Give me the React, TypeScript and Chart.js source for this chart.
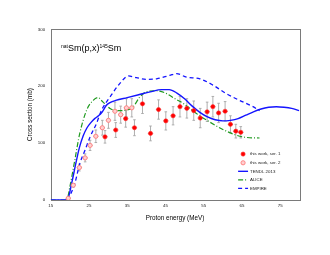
import React, { useEffect, useRef } from "react";
import { Chart, registerables } from "chart.js";
Chart.register(...registerables);

// ---- axes ----
const X_TICKS = [15, 25, 35, 45, 55, 65, 75];
const Y_TICKS = [0, 100, 200, 300];

// ---- experimental data: this work, series 1 ----
const SER1_E = [29.2, 32.0, 34.6, 36.9, 39.0, 41.1, 43.2, 45.1, 47.0, 48.8, 50.6, 52.4, 54.1, 55.9, 57.4, 58.9, 60.6, 62.0, 63.4, 64.7];
const SER1_S = [111, 123, 143, 127, 169, 117, 159, 139, 148, 164, 161, 157, 144, 155, 164, 153, 156, 133, 121, 119];
const SER1_ERR = [11, 13, 15, 14, 17, 13, 17, 16, 16, 18, 17, 17, 17, 17, 18, 17, 17, 15, 12, 10];

// ---- experimental data: this work, series 2 ----
const SER2_E = [19.6, 20.9, 22.5, 24.0, 25.3, 26.8, 28.5, 30.1, 31.8, 33.3, 34.8, 36.2];
const SER2_S = [3, 26, 57, 74, 96, 112, 127, 140, 156, 150, 162, 162];
const SER2_ERR = [1, 3, 6, 7, 9, 11, 13, 14, 16, 15, 16, 16];

const X_ERR = 0.7;

// ---- TENDL 2013 ----
const TENDL_E = [15, 19.3, 20.5, 21.5, 22.5, 23.5, 24.5, 25.5, 26.5, 27.5, 28.5, 29.5, 30.5, 32, 35, 38, 41, 44, 46, 48, 50, 52, 54, 56, 58, 60, 62, 64, 66, 68, 70, 72, 74, 76, 78, 80];
const TENDL_S = [0, 0, 30, 62, 92, 113, 127, 136, 143, 148, 155, 166, 171, 175, 180, 185, 190, 194, 194, 188, 178, 165, 154, 146, 141, 139, 140, 143, 149, 155, 160, 163, 164, 163, 161, 157];

// ---- ALICE ----
const ALICE_E = [15, 19.2, 20, 21.3, 22.6, 24.4, 26.1, 27.4, 28.7, 30.5, 32.2, 34.8, 36.6, 38.3, 40, 42.7, 45.3, 47.5, 49.6, 53.1, 56.6, 60, 63.5, 66.1, 69.6];
const ALICE_S = [0, 0, 23, 70, 117, 158, 175, 180, 172, 161, 157, 158, 164, 181, 190, 192, 187, 178, 170, 152, 137, 124, 114, 110, 109];

// ---- EMPIRE ----
const EMPIRE_E = [19.5, 21.3, 22.6, 24, 25.3, 27, 28.3, 30.5, 33.1, 35.3, 37.4, 40, 42.7, 46.1, 47.9, 50.5, 54, 57.4, 60.9, 64.4, 67.9, 69.6];
const EMPIRE_S = [0, 29, 64, 88, 111, 135, 158, 181, 205, 218, 215, 212, 213, 219, 222, 216, 213, 202, 187, 175, 164, 157];

const LEGEND_LABELS = ["this work, ser. 1", "this work, ser. 2", "TENDL 2013", "ALICE", "EMPIRE"];

const FONT = "'Liberation Sans', Arial, sans-serif";

const pts = (E: number[], S: number[]) => E.map((e, i) => ({ x: e, y: S[i] }));

const framePlugin = {
  id: "frame",
  beforeDatasetsDraw(chart: any) {
    const { ctx, chartArea: a } = chart;
    ctx.save();
    ctx.strokeStyle = "#7a7a7a";
    ctx.lineWidth = 1;
    ctx.strokeRect(Math.round(a.left) + 0.5, Math.round(a.top) + 0.5, Math.round(a.right - a.left), Math.round(a.bottom - a.top));
    ctx.restore();
  },
};

const errorBarPlugin = {
  id: "errbars",
  beforeDatasetsDraw(chart: any) {
    const { ctx, scales } = chart;
    const x = scales.x, y = scales.y;
    ctx.save();
    ctx.strokeStyle = "#a6a6a6";
    ctx.lineWidth = 0.9;
    const draw = (E: number[], S: number[], ERR: number[]) => {
      E.forEach((e, i) => {
        const px = x.getPixelForValue(e);
        const py = y.getPixelForValue(S[i]);
        const y1 = y.getPixelForValue(S[i] - ERR[i]);
        const y2 = y.getPixelForValue(S[i] + ERR[i]);
        const x1 = x.getPixelForValue(e - X_ERR);
        const x2 = x.getPixelForValue(e + X_ERR);
        ctx.beginPath();
        ctx.moveTo(px, y1); ctx.lineTo(px, y2);
        ctx.moveTo(px - 1.3, y1); ctx.lineTo(px + 1.3, y1);
        ctx.moveTo(px - 1.3, y2); ctx.lineTo(px + 1.3, y2);
        ctx.moveTo(x1, py); ctx.lineTo(x2, py);
        ctx.stroke();
      });
    };
    draw(SER2_E, SER2_S, SER2_ERR);
    draw(SER1_E, SER1_S, SER1_ERR);
    ctx.restore();
  },
};

const annotPlugin = {
  id: "annot",
  afterDatasetsDraw(chart: any) {
    const { ctx, scales } = chart;
    const x = scales.x, y = scales.y;
    ctx.save();
    // reaction title
    let tx = x.getPixelForValue(17.7);
    const ty = y.getPixelForValue(261);
    ctx.fillStyle = "#000";
    ctx.textBaseline = "alphabetic";
    ctx.textAlign = "left";
    const parts: [string, boolean][] = [["nat", true], ["Sm(p,x)", false], ["145", true], ["Sm", false]];
    parts.forEach(([t, sup]) => {
      ctx.font = sup ? `5px ${FONT}` : `9px ${FONT}`;
      ctx.fillText(t, tx, sup ? ty - 3.5 : ty);
      tx += ctx.measureText(t).width;
    });

    // legend
    const ds = chart.data.datasets;
    const lx0 = x.getPixelForValue(64.0);
    const lx1 = x.getPixelForValue(66.6);
    const lxm = (lx0 + lx1) / 2;
    const ltx = x.getPixelForValue(67.1);
    const rows = [80.7, 65.4, 50.4, 35.2, 20.5];
    ctx.font = `4.4px ${FONT}`;
    ctx.textBaseline = "middle";
    LEGEND_LABELS.forEach((lab, i) => {
      const d = ds[i];
      const ry = y.getPixelForValue(rows[i]);
      if (d.showLine) {
        ctx.strokeStyle = d.borderColor;
        ctx.lineWidth = d.borderWidth;
        ctx.setLineDash(d.borderDash || []);
        ctx.beginPath();
        ctx.moveTo(lx0, ry);
        ctx.lineTo(lx1, ry);
        ctx.stroke();
        ctx.setLineDash([]);
      } else {
        ctx.beginPath();
        ctx.arc(lxm, ry, d.pointRadius, 0, Math.PI * 2);
        ctx.fillStyle = d.backgroundColor;
        ctx.fill();
        ctx.strokeStyle = d.borderColor;
        ctx.lineWidth = d.borderWidth;
        ctx.stroke();
      }
      ctx.fillStyle = "#222";
      ctx.fillText(lab, ltx, ry);
    });
    ctx.restore();
  },
};

export default function App() {
  const ref = useRef<HTMLCanvasElement>(null);
  useEffect(() => {
    document.body.style.margin = "0";
    const canvas = ref.current!;
    const chart = new Chart(canvas, {
      type: "scatter",
      data: {
        datasets: [
          {
            label: LEGEND_LABELS[0],
            data: pts(SER1_E, SER1_S),
            pointRadius: 2.1,
            backgroundColor: "#ff0000",
            borderColor: "#ff3030",
            borderWidth: 0.6,
            showLine: false,
          },
          {
            label: LEGEND_LABELS[1],
            data: pts(SER2_E, SER2_S),
            pointRadius: 2.1,
            backgroundColor: "#ffd0d0",
            borderColor: "#ff7a7a",
            borderWidth: 0.9,
            showLine: false,
          },
          {
            label: LEGEND_LABELS[2],
            data: pts(TENDL_E, TENDL_S),
            showLine: true,
            pointRadius: 0,
            borderColor: "#1414ff",
            borderWidth: 1.4,
            cubicInterpolationMode: "monotone",
          },
          {
            label: LEGEND_LABELS[3],
            data: pts(ALICE_E, ALICE_S),
            showLine: true,
            pointRadius: 0,
            borderColor: "#1f9a1f",
            borderWidth: 1.2,
            borderDash: [5, 2, 1, 2],
            cubicInterpolationMode: "monotone",
          },
          {
            label: LEGEND_LABELS[4],
            data: pts(EMPIRE_E, EMPIRE_S),
            showLine: true,
            pointRadius: 0,
            borderColor: "#1414ff",
            borderWidth: 1.3,
            borderDash: [4, 3],
            cubicInterpolationMode: "monotone",
          },
        ] as any,
      },
      options: {
        animation: false,
        responsive: false,
        maintainAspectRatio: false,
        layout: { padding: { left: 22, right: 30.7, top: 29.3, bottom: 29 } },
        plugins: { legend: { display: false }, tooltip: { enabled: false }, title: { display: false } },
        scales: {
          x: {
            type: "linear",
            min: 15,
            max: 80,
            grid: { display: false, drawTicks: false },
            border: { display: false },
            afterBuildTicks: (s: any) => { s.ticks = X_TICKS.map((v) => ({ value: v })); },
            afterFit: (s: any) => { s.height = 26; },
            ticks: { padding: 3, font: { family: FONT, size: 4.4 }, color: "#222", maxRotation: 0, autoSkip: false },
            title: { display: true, text: "Proton energy (MeV)", font: { family: FONT, size: 6.3 }, color: "#000", padding: { top: 0, bottom: 4 } },
          },
          y: {
            type: "linear",
            min: 0,
            max: 300,
            grid: { display: false, drawTicks: false },
            border: { display: false },
            afterBuildTicks: (s: any) => { s.ticks = Y_TICKS.map((v) => ({ value: v })); },
            afterFit: (s: any) => { s.width = 28.7; },
            ticks: { padding: 5.5, font: { family: FONT, size: 4.4 }, color: "#222", autoSkip: false },
            title: { display: true, text: "Cross section (mb)", font: { family: FONT, size: 6.3 }, color: "#000", padding: { top: 4.4, bottom: 0 } },
          },
        },
      } as any,
      plugins: [framePlugin, errorBarPlugin, annotPlugin],
    });
    return () => chart.destroy();
  }, []);
  return (
    <div style={{ position: "absolute", left: 0, top: 0, width: 330, height: 255, background: "#fff" }}>
      <canvas ref={ref} width={330} height={255} style={{ display: "block" }} />
    </div>
  );
}
